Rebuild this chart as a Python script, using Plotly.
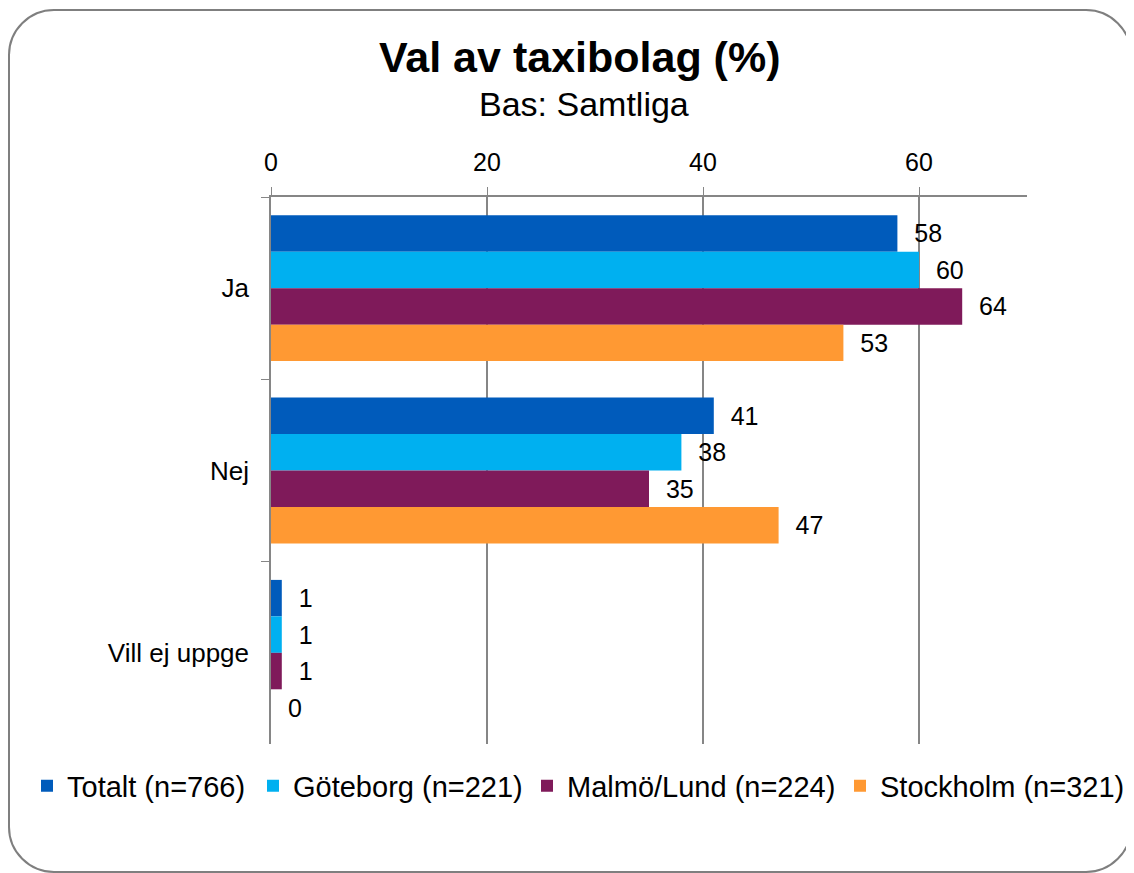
import plotly.graph_objects as go

categories = ["Ja", "Nej", "Vill ej uppge"]
series_names = ["Totalt (n=766)", "Göteborg (n=221)", "Malmö/Lund (n=224)", "Stockholm (n=321)"]
totalt = [58, 41, 1]
goteborg = [60, 38, 1]
malmo = [64, 35, 1]
stockholm = [53, 47, 0]
colors = ["#005BBB", "#00B0F0", "#7F1A5A", "#FF9933"]
x_ticks = [0, 20, 40, 60]

FONT = "Liberation Sans, Arial"
OFF = 8  # page body margin
W, H = 1134 - OFF, 873 - OFF
# plot area in reference page pixels
PL, PR, PT, PB = 271, 1027, 197, 744
L, T = PL - OFF, PT - OFF
R, B = W - (PR - OFF), H - (PB - OFF)
PW, PH = PR - PL, PB - PT

legend_ids = ["legend", "legend2", "legend3", "legend4"]
legend_left = [27, 253, 527, 840]  # reference page pixels (legend box left edges)

fig = go.Figure()
for name, vals, col, lid in zip(series_names, [totalt, goteborg, malmo, stockholm], colors, legend_ids):
    fig.add_trace(go.Bar(
        y=categories, x=vals, name=name, orientation="h", legend=lid,
        marker=dict(color=col, line=dict(width=0)),
        text=vals, texttemplate="\u00a0\u00a0%{x}", textposition="outside", cliponaxis=False,
        textfont=dict(family=FONT, size=25, color="#000"),
    ))

def px(x):
    return (x - PL) / PW

def py(y):
    return 1 - (y - PT) / PH

# rounded border (reference page pixels)
x0, x1, y0, y1, r = 9, 1131, 10, 872, 45
k = 0.5523 * r
path = (
    f"M {px(x0+r)},{py(y0)} L {px(x1-r)},{py(y0)} "
    f"C {px(x1-r+k)},{py(y0)} {px(x1)},{py(y0+r-k)} {px(x1)},{py(y0+r)} "
    f"L {px(x1)},{py(y1-r)} "
    f"C {px(x1)},{py(y1-r+k)} {px(x1-r+k)},{py(y1)} {px(x1-r)},{py(y1)} "
    f"L {px(x0+r)},{py(y1)} "
    f"C {px(x0+r-k)},{py(y1)} {px(x0)},{py(y1-r+k)} {px(x0)},{py(y1-r)} "
    f"L {px(x0)},{py(y0+r)} "
    f"C {px(x0)},{py(y0+r-k)} {px(x0+r-k)},{py(y0)} {px(x0+r)},{py(y0)} Z"
)
fig.add_shape(type="path", path=path, xref="paper", yref="paper",
              line=dict(color="#7F7F7F", width=2), layer="below")

fig.add_annotation(text="<b>Val av taxibolag (%)</b>", x=px(579), y=py(57), xref="paper", yref="paper",
                   showarrow=False, font=dict(family=FONT, size=43, color="#000"),
                   xanchor="center", yanchor="middle")
fig.add_annotation(text="Bas: Samtliga", x=px(584), y=py(104), xref="paper", yref="paper",
                   showarrow=False, font=dict(family=FONT, size=34, color="#000"),
                   xanchor="center", yanchor="middle")

legends = {}
for lid, lx in zip(legend_ids, legend_left):
    legends[lid] = dict(orientation="h", xref="container", yref="container",
                        x=(lx - OFF) / W, y=1 - (786 - OFF) / H, xanchor="left", yanchor="middle",
                        font=dict(family=FONT, size=29, color="#000"), itemwidth=30,
                        bgcolor="rgba(0,0,0,0)", borderwidth=0)

fig.update_layout(
    width=W, height=H,
    margin=dict(l=L, r=R, t=T, b=B),
    paper_bgcolor="white", plot_bgcolor="white",
    barmode="group", bargap=0.2, bargroupgap=0,
    font=dict(family=FONT, size=25, color="#000"),
    showlegend=True,
    xaxis=dict(side="top", range=[0, 70], tickvals=x_ticks, ticks="outside", ticklen=8,
               tickcolor="#868686", showline=True, linecolor="#868686", linewidth=1.5,
               showgrid=True, gridcolor="#868686", gridwidth=1.5, zeroline=False,
               tickfont=dict(size=25), ticklabelstandoff=6),
    yaxis=dict(autorange="reversed", ticks="outside", ticklen=8, tickcolor="#868686",
               tickson="boundaries", showline=True, linecolor="#868686", linewidth=1.5,
               showgrid=False, tickfont=dict(size=26), ticklabelstandoff=15),
    **legends,
)

fig.write_html("out.html")
